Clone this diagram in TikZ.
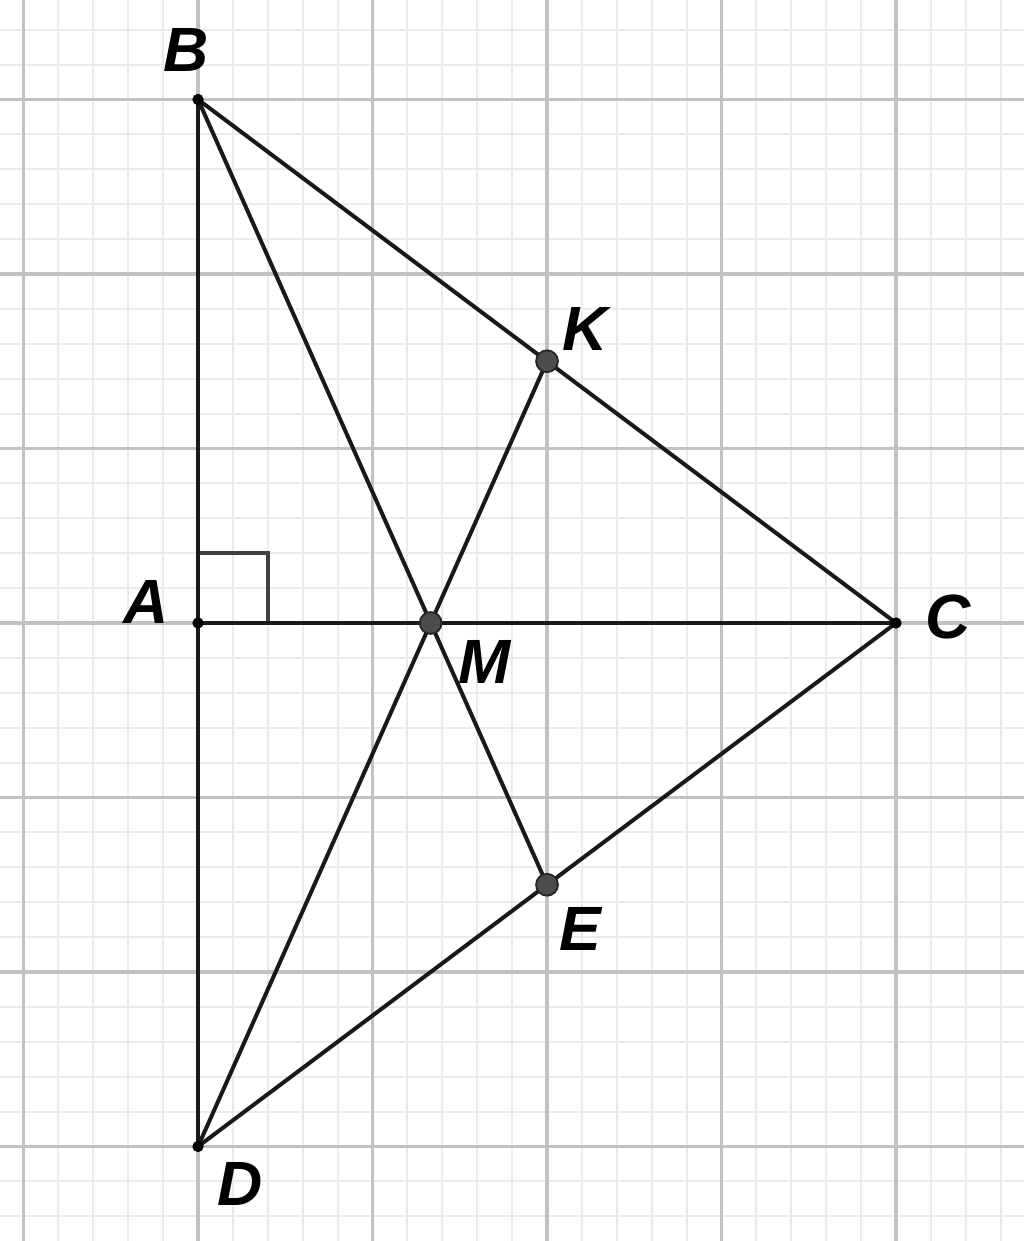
\documentclass[tikz,border=0pt]{standalone}
\usepackage{fontspec}
\setmainfont{Liberation Sans}
\begin{document}
\begin{tikzpicture}[x=1cm,y=1cm,
  seg/.style={line width=0.65pt,black!90},
  minorgrid/.style={draw=black!8,line width=0.35pt},
  majorgrid/.style={draw=black!24,line width=0.6pt},
  smalldot/.style={circle,fill=black,inner sep=0pt,minimum size=0.65mm},
  bigdot/.style={circle,fill=black!70,draw=black!85,line width=0.3pt,inner sep=0pt,minimum size=1.25mm},
  lbl/.style={font=\fontsize{10.2}{12}\selectfont\bfseries\itshape,inner sep=0pt}]
\useasboundingbox (-1.1347,-3.5415) rectangle (4.7335,3.5702);
\fill[white] (-1.1347,-3.5415) rectangle (4.7335,3.5702);
\draw[minorgrid,step=0.2] (-1.1347,-3.5415) grid (4.7335,3.5702);
\draw[majorgrid,step=1] (-1.1347,-3.5415) grid (4.7335,3.5702);
% points
\coordinate (A) at (0,0);
\coordinate (B) at (0,3);
\coordinate (C) at (4,0);
\coordinate (D) at (0,-3);
\coordinate (M) at (4/3,0);
\coordinate (K) at (2,1.5);
\coordinate (E) at (2,-1.5);
% right angle
\draw[line width=0.7pt,black!75] (0,0.4) -- (0.4,0.4) -- (0.4,0);
% segments
\draw[seg] (B) -- (D);
\draw[seg] (A) -- (C);
\draw[seg] (B) -- (C);
\draw[seg] (D) -- (C);
\draw[seg] (B) -- (E);
\draw[seg] (D) -- (K);
% dots
\node[smalldot] (nA) at (A) {};
\node[smalldot] (nB) at (B) {};
\node[smalldot] (nC) at (C) {};
\node[smalldot] (nD) at (D) {};
\node[bigdot] (nM) at (M) {};
\node[bigdot] (nK) at (K) {};
\node[bigdot] (nE) at (E) {};
% labels
\node[lbl] (lB) at (-0.07,3.285) {B};
\node[lbl] (lA) at (-0.30,0.12) {A};
\node[lbl] (lC) at (4.30,0.035) {C};
\node[lbl] (lK) at (2.22,1.685) {K};
\node[lbl] (lM) at (1.64,-0.225) {M};
\node[lbl] (lE) at (2.19,-1.755) {E};
\node[lbl] (lD) at (0.24,-3.215) {D};
\end{tikzpicture}
\end{document}
